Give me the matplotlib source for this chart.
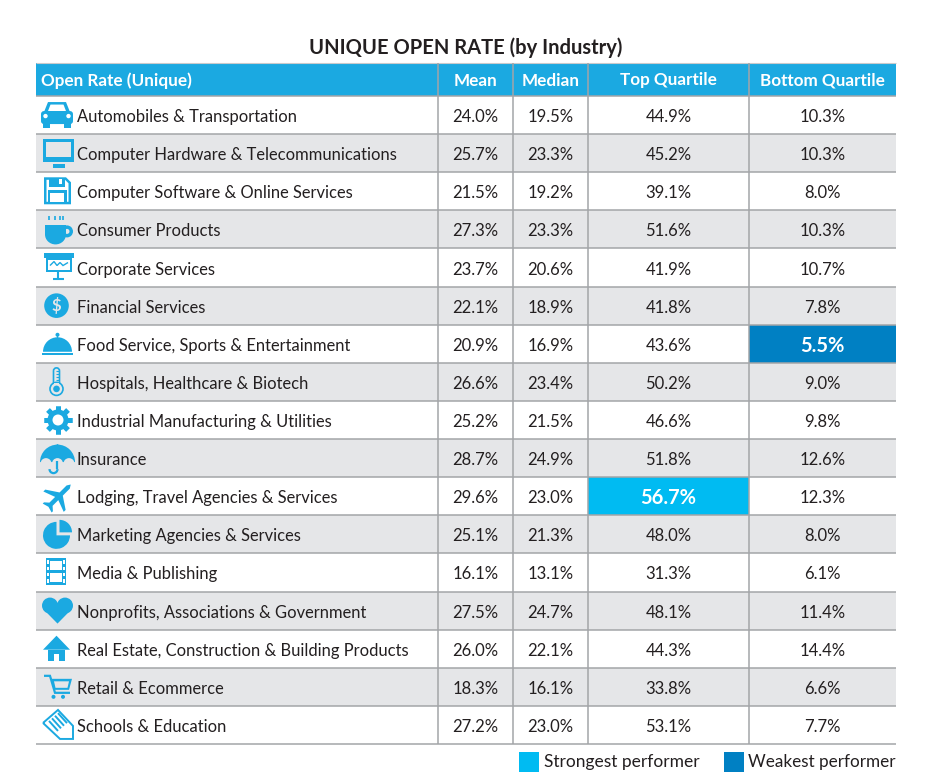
import numpy as np
import matplotlib
matplotlib.use('Agg')
import matplotlib.pyplot as plt
from matplotlib.patches import Rectangle, Circle, Polygon, Wedge, Ellipse, FancyBboxPatch, Arc

plt.rcParams['font.family'] = ['Lato', 'DejaVu Sans']

# data
title = 'UNIQUE OPEN RATE (by Industry)'
headers = ['Open Rate (Unique)', 'Mean', 'Median', 'Top Quartile', 'Bottom Quartile']
industries = ['Automobiles & Transportation', 'Computer Hardware & Telecommunications',
              'Computer Software & Online Services', 'Consumer Products', 'Corporate Services',
              'Financial Services', 'Food Service, Sports & Entertainment',
              'Hospitals, Healthcare & Biotech', 'Industrial Manufacturing & Utilities',
              'Insurance', 'Lodging, Travel Agencies & Services', 'Marketing Agencies & Services',
              'Media & Publishing', 'Nonprofits, Associations & Government',
              'Real Estate, Construction & Building Products', 'Retail & Ecommerce',
              'Schools & Education']
mean = [24.0, 25.7, 21.5, 27.3, 23.7, 22.1, 20.9, 26.6, 25.2, 28.7, 29.6, 25.1, 16.1, 27.5, 26.0, 18.3, 27.2]
median = [19.5, 23.3, 19.2, 23.3, 20.6, 18.9, 16.9, 23.4, 21.5, 24.9, 23.0, 21.3, 13.1, 24.7, 22.1, 16.1, 23.0]
top_q = [44.9, 45.2, 39.1, 51.6, 41.9, 41.8, 43.6, 50.2, 46.6, 51.8, 56.7, 48.0, 31.3, 48.1, 44.3, 33.8, 53.1]
bottom_q = [10.3, 10.3, 8.0, 10.3, 10.7, 7.8, 5.5, 9.0, 9.8, 12.6, 12.3, 8.0, 6.1, 11.4, 14.4, 6.6, 7.7]

# layout in pixels
W, H = 948, 782
col_x = [36, 438, 513, 588, 749, 896]
head_top, head_bot = 63, 96
row_h = (744 - 96) / 17
BLUE = '#1ba9e1'
STRONG = '#00bbf2'
WEAK = '#0080c3'
GRAY = '#e5e6e8'
LINE = '#a3a5a8'
TEXT = '#231f20'

fig = plt.figure(figsize=(W / 100, H / 100), dpi=100)
ax = fig.add_axes([0, 0, 1, 1])
ax.set_xlim(0, W)
ax.set_ylim(H, 0)
ax.axis('off')


def rect(x0, y0, x1, y1, color, z=2):
    ax.add_patch(Rectangle((x0, y0), x1 - x0, y1 - y0, fc=color, ec='none', zorder=z))


def poly(pts, color, z=2):
    ax.add_patch(Polygon(pts, closed=True, fc=color, ec='none', zorder=z))


def dot(x, y, r, color):
    ax.add_patch(Circle((x, y), r, fc=color, ec='none', zorder=2))


def line(xs, ys, lw=1.5, color=BLUE):
    ax.plot(xs, ys, color=color, lw=lw, zorder=2, solid_capstyle='butt', solid_joinstyle='miter')


# icons, y is the row centre, bg the row colour
def car(y, bg):
    poly([(44, y - 3), (48, y - 13), (66, y - 13), (70, y - 3)], BLUE)
    poly([(48, y - 4), (50.5, y - 10.5), (63.5, y - 10.5), (66, y - 4)], bg)
    ax.add_patch(FancyBboxPatch((41, y - 4), 32, 13, boxstyle='round,pad=0,rounding_size=3', fc=BLUE, ec='none', zorder=2))
    rect(43, y + 8, 50, y + 13, BLUE)
    rect(64, y + 8, 71, y + 13, BLUE)
    dot(45.5, y + 1, 2.2, bg)
    dot(68.5, y + 1, 2.2, bg)


def monitor(y, bg):
    rect(43, y - 14, 74, y + 9, BLUE)
    rect(46, y - 11, 71, y + 4, bg)
    rect(53, y + 11, 65, y + 15, BLUE)


def floppy(y, bg):
    poly([(44, y - 14), (66, y - 14), (71, y - 9), (71, y + 13), (44, y + 13)], BLUE)
    poly([(46.5, y - 11.5), (65, y - 11.5), (68.5, y - 8), (68.5, y + 10.5), (46.5, y + 10.5)], bg)
    rect(49, y - 13, 65, y - 4, BLUE)
    rect(59, y - 12, 62, y - 7, bg)
    rect(48, y - 1, 67, y + 11, BLUE)
    rect(50.5, y + 1.5, 64.5, y + 11, bg)


def cup(y, bg):
    dot(67, y + 2, 6, BLUE)
    dot(67, y + 2, 2.5, bg)
    rect(45, y - 4, 66, y + 5, BLUE)
    ax.add_patch(Ellipse((55.5, y + 5), 21, 20, fc=BLUE, ec='none', zorder=2))
    rect(45, y - 9, 66, y - 4, bg)
    for x in (49, 55, 60, 63):
        line([x, x], [y - 13, y - 9], 1.2)


def board(y, bg):
    rect(44, y - 15, 74, y - 10, BLUE)
    rect(46, y - 10, 72, y + 4, BLUE)
    rect(48, y - 8, 70, y + 2, bg)
    line([50, 54, 57, 60, 63, 68], [y - 2, y - 6, y - 2, y - 5, y - 2, y - 5], 1)
    line([58.5, 58.5], [y + 4, y + 11], 1.5)
    line([53, 64], [y + 11.5, y + 11.5], 1.5)


def dollar(y, bg):
    dot(56.5, y, 12.3, BLUE)
    ax.text(56.5, y, '$', color=bg, fontsize=12, fontweight='bold', ha='center', va='center', zorder=3)


def bell(y, bg):
    ax.add_patch(Wedge((57.5, y + 8), 14.5, 180, 360, fc=BLUE, ec='none', zorder=2))
    dot(57.5, y - 9, 2, BLUE)
    rect(57, y - 8, 58, y - 5, BLUE)
    rect(42, y + 9, 73, y + 11.5, BLUE)


def thermo(y, bg):
    ax.add_patch(FancyBboxPatch((53.5, y - 14), 6, 24, boxstyle='round,pad=0,rounding_size=3', fc=bg, ec=BLUE, lw=1.2, zorder=2))
    ax.add_patch(Circle((56.5, y + 7), 6.5, fc=bg, ec=BLUE, lw=1.2, zorder=2))
    rect(54.3, y + 1, 58.7, y + 3, bg)
    dot(56.5, y + 7, 3.3, BLUE)
    for k in range(4):
        line([56.5, 59.5], [y - 11 + 3 * k, y - 11 + 3 * k], 0.8)


def gear(y, bg):
    for a in np.arange(8) * np.pi / 4:
        line([58 - 14 * np.cos(a), 58 + 14 * np.cos(a)], [y - 14 * np.sin(a), y + 14 * np.sin(a)], 3.6)
    dot(58, y, 10.5, BLUE)
    dot(58, y, 5.5, bg)


def umbrella(y, bg):
    cy = y + 4
    ax.add_patch(Wedge((57.5, cy), 17.5, 180, 360, fc=BLUE, ec='none', zorder=2))
    dot(46, cy + 1.5, 5.5, bg)
    dot(57.5, cy + 1.5, 5.5, bg)
    dot(69, cy + 1.5, 5.5, bg)
    rect(40, cy - 0.5, 75, cy + 0.1, BLUE)
    line([57.5, 57.5], [cy - 1, cy + 7], 1.6)
    ax.add_patch(Arc((53.5, cy + 7), 8, 8, theta1=0, theta2=180, ec=BLUE, lw=1.6, zorder=2))
    dot(57.5, cy - 17, 1, BLUE)


def plane(y, bg):
    pts = np.array([(0, -20), (2.5, -16), (2.5, -5), (16, 4), (16, 7), (2.5, 2), (2.5, 11), (7, 15), (7, 17),
                    (0, 15), (-7, 17), (-7, 15), (-2.5, 11), (-2.5, 2), (-16, 7), (-16, 4), (-2.5, -5), (-2.5, -16)])
    a = np.pi / 4
    rot = np.array([[np.cos(a), -np.sin(a)], [np.sin(a), np.cos(a)]])
    poly(pts @ rot.T * 0.9 + [58, y + 1], BLUE)


def pie(y, bg):
    ax.add_patch(Wedge((56.5, y + 1), 13.5, 0, 270, fc=BLUE, ec='none', zorder=2))
    ax.add_patch(Wedge((59.5, y - 2), 12.5, 270, 360, fc=BLUE, ec='none', zorder=2))


def film(y, bg):
    rect(46, y - 14, 66, y + 13, BLUE)
    rect(50, y - 11, 62, y - 2, bg)
    rect(50, y + 1, 62, y + 10, bg)
    for k in range(4):
        rect(47, y - 12 + 6.2 * k, 49, y - 8.5 + 6.2 * k, bg)
        rect(63, y - 12 + 6.2 * k, 65, y - 8.5 + 6.2 * k, bg)


def heart(y, bg):
    dot(50, y - 5, 8, BLUE)
    dot(65, y - 5, 8, BLUE)
    poly([(42.8, y - 2), (57.5, y + 13), (72.2, y - 2), (57.5, y - 8)], BLUE)


def house(y, bg):
    poly([(43, y + 1), (56.5, y - 13), (70, y + 1)], BLUE)
    rect(48, y + 1, 65, y + 12, BLUE)
    rect(54, y + 5, 59, y + 12, bg)


def cart(y, bg):
    line([44, 50, 55, 70], [y - 11, y - 11, y + 6, y + 6], 1.6)
    poly([(51, y - 8), (72, y - 8), (69, y + 3), (54, y + 3)], BLUE)
    poly([(54, y - 5.5), (69, y - 5.5), (67.5, y + 1), (55.5, y + 1)], bg)
    dot(53.5, y + 10, 2, BLUE)
    dot(63, y + 10, 2, BLUE)


def pencil(y, bg):
    pts = [(43, y - 2), (58, y - 15), (73, y + 1), (73, y + 14), (60, y + 14), (43, y - 2)]
    line([p[0] for p in pts], [p[1] for p in pts], 1.4)
    for k in range(4):
        line([49 + 3 * k, 58 + 3 * k], [y - 4 - 2.6 * k, y + 6 - 2.6 * k], 1.4)


icons = [car, monitor, floppy, cup, board, dollar, bell, thermo, gear, umbrella, plane, pie, film, heart, house, cart, pencil]

# header
ax.text(466, 48, title, fontsize=14.5, fontweight='bold', color=TEXT, ha='center', va='center')
rect(col_x[0], head_top, col_x[-1], head_bot, BLUE, z=0)
head_y = (head_top + head_bot) / 2 + 1
ax.text(41, head_y, headers[0], fontsize=12.3, fontweight='bold', color='white', ha='left', va='center')
for i in range(1, 5):
    ax.text((col_x[i] + col_x[i + 1]) / 2, head_y, headers[i], fontsize=12.3, fontweight='bold',
            color='white', ha='center', va='center')

# rows
columns = [mean, median, top_q, bottom_q]
for r, name in enumerate(industries):
    y0 = head_bot + r * row_h
    yc = y0 + row_h / 2
    bg = GRAY if r % 2 else 'white'
    rect(col_x[0], y0, col_x[-1], y0 + row_h, bg, z=0)
    icons[r](yc, bg)
    ax.text(77, yc + 2, name, fontsize=11.9, color=TEXT, ha='left', va='center', zorder=3)
    for c, vals in enumerate(columns):
        xc = (col_x[c + 1] + col_x[c + 2]) / 2
        hi = None
        if vals is top_q and vals[r] == max(top_q):
            hi = STRONG
        if vals is bottom_q and vals[r] == min(bottom_q):
            hi = WEAK
        if hi:
            rect(col_x[c + 1], y0, col_x[c + 2], y0 + row_h, hi, z=0.5)
            ax.text(xc, yc + 2, f'{vals[r]:.1f}%', fontsize=14.5, fontweight='bold', color='white',
                    ha='center', va='center', zorder=3)
        else:
            ax.text(xc, yc + 2, f'{vals[r]:.1f}%', fontsize=12, color=TEXT, ha='center', va='center', zorder=3)

# grid lines
for r in range(18):
    yl = head_bot + r * row_h
    ax.plot([col_x[0], col_x[-1]], [yl, yl], color=LINE, lw=1.1, zorder=1, solid_capstyle='butt')
ax.plot([col_x[0], col_x[-1]], [head_top, head_top], color='#c9cacc', lw=0.8, zorder=1, solid_capstyle='butt')
for x in col_x[1:-1]:
    ax.plot([x, x], [head_top, head_bot + 17 * row_h], color=LINE, lw=1.1, zorder=1, solid_capstyle='butt')

# legend
rect(519, 752, 539, 772, STRONG)
ax.text(544, 762, 'Strongest performer', fontsize=12.5, color=TEXT, ha='left', va='center')
rect(724, 752, 744, 772, WEAK)
ax.text(748, 762, 'Weakest performer', fontsize=12.3, color=TEXT, ha='left', va='center')

fig.savefig('out.png', dpi=100)
